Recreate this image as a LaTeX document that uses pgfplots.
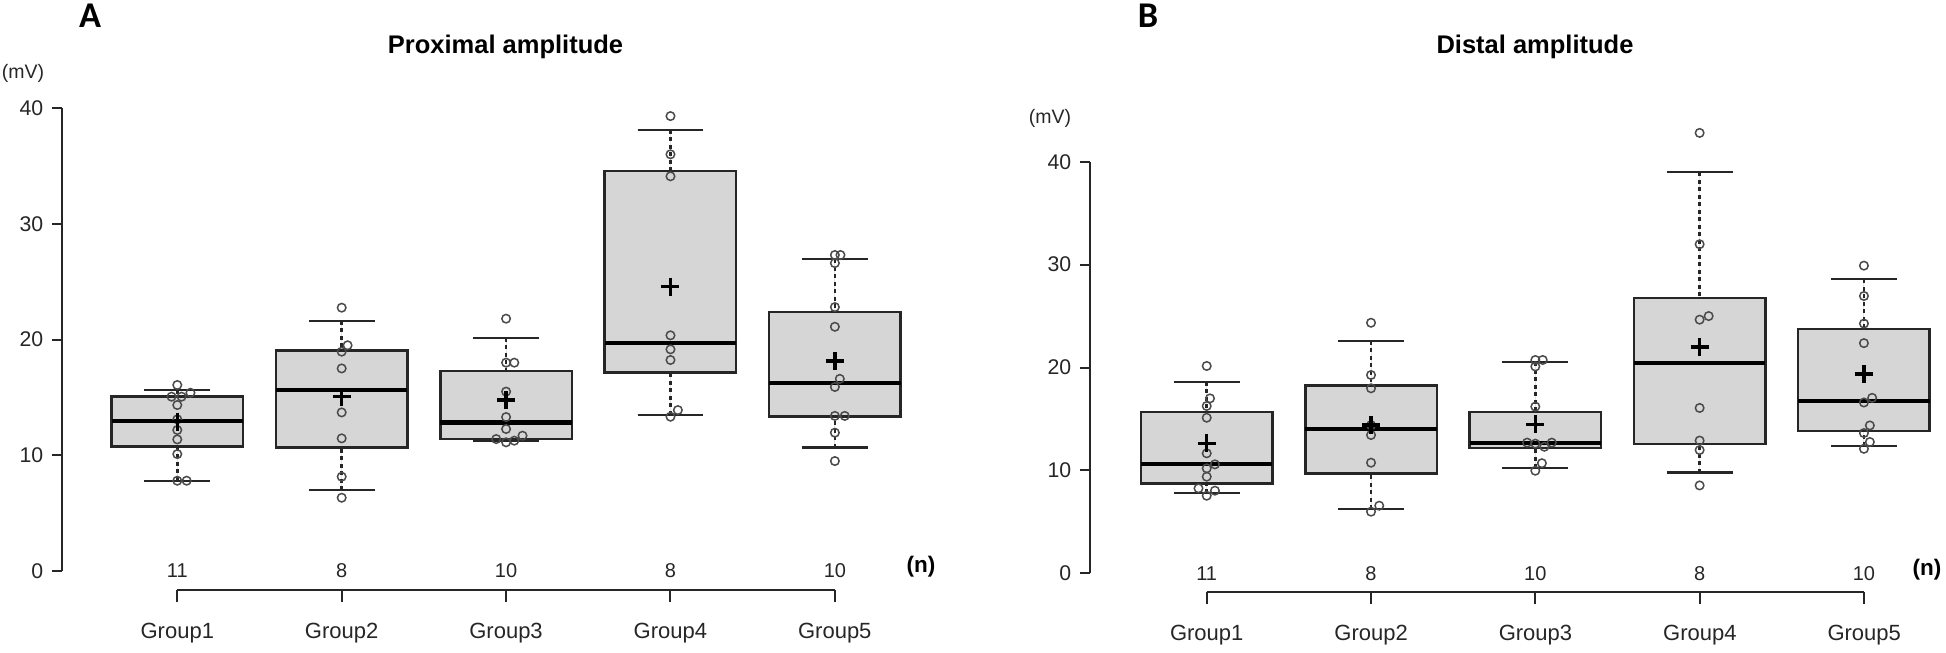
\documentclass[border=0pt]{standalone}
\usepackage{fontspec}
\setmainfont{Liberation Sans}
\newfontfamily\carlito{Carlito}
\usepackage{pgfplots}
\pgfplotsset{compat=1.18}
\usepgfplotslibrary{statistics}
\definecolor{boxfill}{HTML}{D6D6D6}
\definecolor{edge}{HTML}{262626}
\definecolor{ptcol}{HTML}{4A4A4A}

\pgfplotsset{
  /pgfplots/boxplot/draw/lower whisker/.code={%
    \draw[edge, line width=1.1pt, dash pattern=on 1.6pt off 1.4pt]
      (boxplot cs:\pgfplotsboxplotvalue{lower whisker},0) -- (boxplot cs:\pgfplotsboxplotvalue{lower quartile},0);
    \draw[edge, line width=0.9pt]
      (boxplot whisker cs:\pgfplotsboxplotvalue{lower whisker},0) -- (boxplot whisker cs:\pgfplotsboxplotvalue{lower whisker},1);
  },
  /pgfplots/boxplot/draw/upper whisker/.code={%
    \draw[edge, line width=1.1pt, dash pattern=on 1.6pt off 1.4pt]
      (boxplot cs:\pgfplotsboxplotvalue{upper whisker},0) -- (boxplot cs:\pgfplotsboxplotvalue{upper quartile},0);
    \draw[edge, line width=0.9pt]
      (boxplot whisker cs:\pgfplotsboxplotvalue{upper whisker},0) -- (boxplot whisker cs:\pgfplotsboxplotvalue{upper whisker},1);
  },
  mybox/.style={
    fill=boxfill, draw=edge, line width=1pt,
    boxplot/draw direction=y,
    boxplot/box extend=0.8,
    boxplot/whisker extend=0.4,
    boxplot/every median/.style={line width=1.7pt, draw=black},
  },
  pts/.style={only marks, mark=o, mark size=1.7pt, draw=ptcol, line width=0.6pt},
  meanmk/.style={only marks, mark=+, mark size=3.6pt, draw=black, line width=1.3pt},
  valaxis/.style={
    anchor=south west, scale only axis, clip=false,
    ymin=0, ymax=40,
    axis x line=none, axis y line=left,
    axis line style={-, edge, line width=0.8pt},
    ytick={0,10,20,30,40}, tick align=outside, major tick length=4pt,
    ytick style={edge, line width=0.8pt},
    yticklabel style={font=\fontsize{8.5}{10}\selectfont, text=black!85},
    /pgf/number format/assume math mode=true,
  },
  cataxis/.style={
    anchor=south west, scale only axis, width=263pt, height=1pt,
    xmin=1, xmax=5, ymin=0, ymax=1,
    axis y line=none, axis x line=bottom,
    axis line style={-, edge, line width=0.8pt},
    xtick={1,2,3,4,5}, xticklabels={Group1,Group2,Group3,Group4,Group5},
    tick align=outside, major tick length=4.8pt,
    xtick style={edge, line width=0.8pt},
    xticklabel style={font=\fontsize{8.8}{10}\selectfont, text=black!85, yshift=-5pt},
  },
}
\newcommand\nlab[2]{\node[font=\fontsize{8}{9}\selectfont, text=black!85] at (axis cs:#1,0) {#2};}

\begin{document}
\begin{tikzpicture}
\path[use as bounding box] (0,0) rectangle (778.4pt,260.8pt);

% ---------------- Panel A ----------------
\begin{axis}[valaxis, at={(24.8pt,32.4pt)}, width=348.6pt, height=185.2pt, xmin=0.2987, xmax=5.6]
\addplot[mybox, boxplot prepared={draw position=1, lower whisker=7.8, lower quartile=10.74, median=12.96, upper quartile=15.06, upper whisker=15.66}] coordinates {};
\addplot[mybox, boxplot prepared={draw position=2, lower whisker=6.97, lower quartile=10.68, median=15.64, upper quartile=19.03, upper whisker=21.6}] coordinates {};
\addplot[mybox, boxplot prepared={draw position=3, lower whisker=11.2, lower quartile=11.4, median=12.84, upper quartile=17.3, upper whisker=20.16}] coordinates {};
\addplot[mybox, boxplot prepared={draw position=4, lower whisker=13.5, lower quartile=17.13, median=19.72, upper quartile=34.56, upper whisker=38.13}] coordinates {};
\addplot[mybox, boxplot prepared={draw position=5, lower whisker=10.66, lower quartile=13.33, median=16.27, upper quartile=22.38, upper whisker=26.95}] coordinates {};
\addplot[pts] coordinates {
 (1,16.07) (0.965,15.06) (1.026,15.06) (1.08,15.4) (1,14.34) (1,13.1) (1,12.18) (1,11.37) (1,10.1) (1,7.8) (1.057,7.8)
 (2,22.75) (2.036,19.5) (2,18.95) (2,17.5) (2,13.7) (2,11.46) (2,8.15) (2,6.33)
 (3,21.8) (3,18.0) (3.05,18.0) (3,15.5) (3,13.3) (3,12.27) (2.94,11.4) (3,11.12) (3.05,11.26) (3.1,11.69)
 (4,39.3) (4,36.0) (4,34.1) (4,20.36) (4,19.15) (4,18.23) (4.045,13.9) (4,13.33)
 (5,27.3) (5.034,27.3) (5,26.6) (5,22.8) (5,21.1) (5.03,16.6) (5,15.9) (5,13.4) (5.06,13.4) (5,11.95) (5,9.5)
};
\addplot[meanmk] coordinates {(1,12.9) (2,15.06) (3,14.77) (4,24.56) (5,18.14)};
\nlab{1}{11}\nlab{2}{8}\nlab{3}{10}\nlab{4}{8}\nlab{5}{10}
\end{axis}
\begin{axis}[cataxis, at={(70.92pt,24.8pt)}]
\end{axis}

% ---------------- Panel B ----------------
\begin{axis}[valaxis, at={(436pt,31.48pt)}, width=349pt, height=164.64pt, xmin=0.2897, xmax=5.6]
\addplot[mybox, boxplot prepared={draw position=1, lower whisker=7.77, lower quartile=8.75, median=10.62, upper quartile=15.7, upper whisker=18.62}] coordinates {};
\addplot[mybox, boxplot prepared={draw position=2, lower whisker=6.22, lower quartile=9.72, median=14.0, upper quartile=18.23, upper whisker=22.58}] coordinates {};
\addplot[mybox, boxplot prepared={draw position=3, lower whisker=10.2, lower quartile=12.2, median=12.63, upper quartile=15.7, upper whisker=20.5}] coordinates {};
\addplot[mybox, boxplot prepared={draw position=4, lower whisker=9.79, lower quartile=12.58, median=20.43, upper quartile=26.77, upper whisker=38.99}] coordinates {};
\addplot[mybox, boxplot prepared={draw position=5, lower whisker=12.35, lower quartile=13.82, median=16.76, upper quartile=23.76, upper whisker=28.57}] coordinates {};
\addplot[pts] coordinates {
 (1,20.15) (1.02,17.0) (1,16.26) (1,15.12) (1,11.66) (1.05,10.59) (1,10.2) (1,9.39) (0.95,8.26) (1.05,8.03) (1,7.54)
 (2,24.35) (2,19.27) (2,17.98) (2,14.4) (2,13.44) (2,10.75) (2.05,6.57) (2,5.99)
 (3,20.73) (3.045,20.73) (3,20.1) (3,16.2) (2.95,12.7) (3,12.6) (3.055,12.3) (3.1,12.7) (3.04,10.7) (3,9.97)
 (4,42.8) (4,31.98) (4.055,25.0) (4,24.65) (4,16.07) (4,12.9) (4,11.98) (4,8.54)
 (5,29.9) (5,26.95) (5,24.27) (5,22.37) (5.05,17.05) (5,16.6) (5.036,14.37) (5,13.63) (5.036,12.76) (5,12.1)
};
\addplot[meanmk] coordinates {(1,12.63) (2,14.41) (3,14.48) (4,22.0) (5,19.36)};
\nlab{1}{11}\nlab{2}{8}\nlab{3}{10}\nlab{4}{8}\nlab{5}{10}
\end{axis}
\begin{axis}[cataxis, at={(482.68pt,24.12pt)}]
\end{axis}

% ---------------- Texts ----------------
\node[font=\carlito\bfseries\fontsize{14.5}{16}\selectfont] at (36pt,254.4pt) {A};
\node[font=\carlito\bfseries\fontsize{14.5}{16}\selectfont] at (459.2pt,254.4pt) {B};
\node[anchor=base, font=\bfseries\fontsize{10.2}{12}\selectfont] at (202.2pt,239.6pt) {Proximal amplitude};
\node[anchor=base, font=\bfseries\fontsize{10.2}{12}\selectfont] at (614pt,239.6pt) {Distal amplitude};
\node[font=\fontsize{7.8}{9}\selectfont, text=black!85] at (9.2pt,231.6pt) {(mV)};
\node[font=\fontsize{7.8}{9}\selectfont, text=black!85] at (420pt,213.6pt) {(mV)};
\node[font=\bfseries\fontsize{9}{10}\selectfont] at (368.4pt,34pt) {(n)};
\node[font=\bfseries\fontsize{9}{10}\selectfont] at (770.8pt,32.8pt) {(n)};
\end{tikzpicture}
\end{document}
